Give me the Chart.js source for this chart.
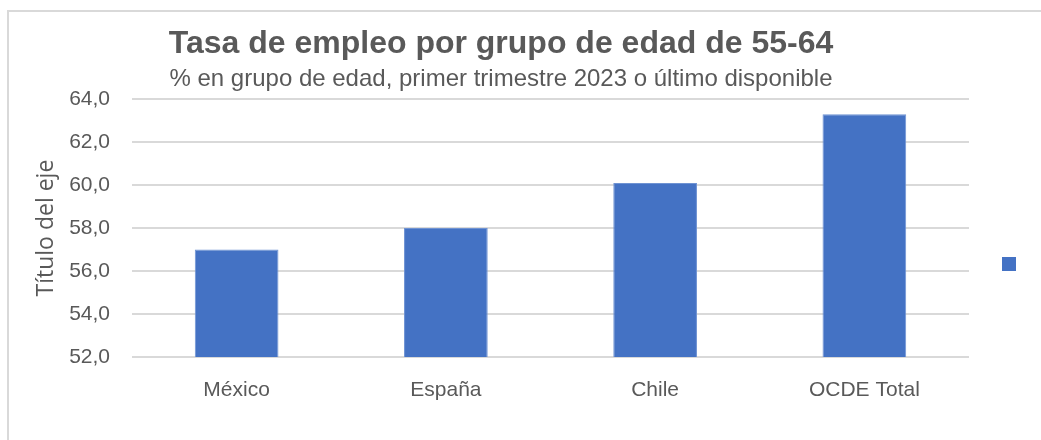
<!DOCTYPE html>
<html>
<head>
<meta charset="utf-8">
<script src="https://cdn.jsdelivr.net/npm/chart.js@4/dist/chart.umd.min.js"></script>
<style>
  body { margin: 0; background: #fff; }
  #wrap { position: relative; width: 1041px; height: 440px; overflow: hidden; }
  #frame { position: absolute; left: 7px; top: 10px; width: 1100px; height: 500px;
           border-left: 2px solid #D9D9D9; border-top: 2px solid #D9D9D9; }
  canvas { position: absolute; left: 0; top: 0; }
</style>
</head>
<body>
<div id="wrap">
  <div id="frame"></div>
  <canvas id="chart" width="1041" height="440"></canvas>
</div>
<script>
var countries = ["México", "España", "Chile", "OCDE Total"];
var rates = [57.0, 58.0, 60.1, 63.3];          // % empleados 55-64
var yTicks = [52, 54, 56, 58, 60, 62, 64];
var barColor = '#4472C4';
var textColor = '#595959';

// legend square on the right (Excel shows it with an empty series name)
var legendBox = {
    id: 'legendBox',
    afterDraw: function(chart) {
        var ctx = chart.ctx;
        ctx.save();
        ctx.fillStyle = chart.data.datasets[0].backgroundColor;
        ctx.fillRect(chart.chartArea.right + 33, 257, 14, 14);
        ctx.restore();
    }
};

var ctx = document.getElementById('chart');
new Chart(ctx, {
    type: 'bar',
    data: {
        labels: countries,
        datasets: [{
            label: '',
            data: rates,
            backgroundColor: barColor,
            borderColor: '#6F93D3',
            borderWidth: 1,
            barPercentage: 1.0,
            categoryPercentage: 0.4
        }]
    },
    options: {
        responsive: false,
        animation: false,
        layout: { padding: { left: 33, right: 72, top: 25, bottom: 30 } },
        plugins: {
            legend: { display: false },
            tooltip: { enabled: false },
            title: {
                display: true,
                text: 'Tasa de empleo por grupo de edad de 55-64',
                color: textColor,
                font: { family: 'Liberation Sans', size: 32, weight: 'bold' },
                padding: { top: 0, bottom: 2 }
            },
            subtitle: {
                display: true,
                text: '% en grupo de edad, primer trimestre 2023 o último disponible',
                color: textColor,
                font: { family: 'Liberation Sans', size: 24 },
                padding: { top: 0, bottom: 5 }
            }
        },
        scales: {
            x: {
                grid: { display: false },
                border: { display: false },
                ticks: { color: textColor, font: { family: 'Liberation Sans', size: 21 }, padding: 13 },
                afterFit: function(scale) { scale.height = 53; }
            },
            y: {
                min: 52,
                max: 64,
                afterBuildTicks: function(scale) {
                    scale.ticks = yTicks.map(function(v) { return { value: v }; });
                },
                grid: { color: '#D9D9D9', lineWidth: 2, drawTicks: false },
                border: { display: false },
                ticks: {
                    color: textColor,
                    font: { family: 'Liberation Sans', size: 21 },
                    padding: 22,
                    callback: function(v) { return v.toFixed(1).replace('.', ','); }
                },
                title: {
                    display: true,
                    text: 'Título del eje',
                    color: textColor,
                    font: { family: 'Open Sans', size: 23 },
                    padding: { top: 0, bottom: 0 }
                },
                afterFit: function(scale) { scale.width = 99; }
            }
        }
    },
    plugins: [legendBox]
});
</script>
</body>
</html>
